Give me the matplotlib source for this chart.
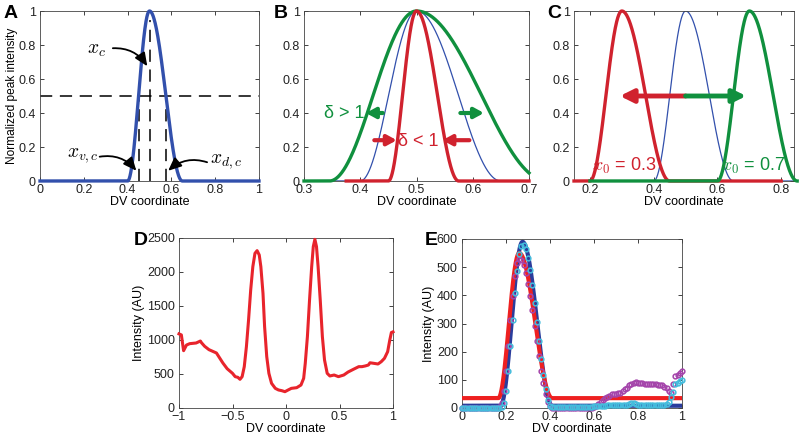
import numpy as np
import matplotlib
matplotlib.use('Agg')
import matplotlib.pyplot as plt

plt.rcParams['font.family'] = ['Liberation Sans', 'DejaVu Sans']
plt.rcParams['mathtext.fontset'] = 'cm'

BLUE = '#3250ac'
RED = '#d0222e'
GREEN = '#10903e'
MAGENTA = '#a444aa'
CYAN = '#44bcdc'
DBLUE = '#2a3c9c'

# peak model parameters: (centre, left width, right width)
base_peak = (0.5, 0.1, 0.15)
delta_values = [1.55, 0.5]          # B: wider (green), narrower (red)
shift_centres = [0.3, 0.7]          # C: red, green
half_points = [0.45, 0.5, 0.575]    # A: x_v,c, x_c, x_d,c

# D: measured profile
d_x = [-1.0, -0.978, -0.957, -0.93, -0.90, -0.84, -0.80, -0.79, -0.76, -0.72,
       -0.65, -0.59, -0.55, -0.50, -0.475, -0.45, -0.43, -0.41, -0.39, -0.37,
       -0.35, -0.33, -0.31, -0.29, -0.27, -0.25, -0.235, -0.215, -0.20, -0.18,
       -0.16, -0.135, -0.10, -0.07, -0.04, -0.01, 0.02, 0.05, 0.10, 0.14,
       0.165, 0.18, 0.20, 0.22, 0.24, 0.255, 0.27, 0.285, 0.30, 0.32,
       0.34, 0.36, 0.385, 0.41, 0.45, 0.49, 0.54, 0.58, 0.63, 0.68,
       0.71, 0.74, 0.77, 0.785, 0.82, 0.86, 0.89, 0.92, 0.95, 0.97,
       0.985, 1.0]
d_y = [1090, 1075, 843, 926, 946, 956, 985, 960, 907, 858,
       809, 662, 578, 510, 461, 451, 422, 461, 608, 902,
       1294, 1735, 2078, 2275, 2314, 2250, 2078, 1686, 1196, 755,
       510, 363, 289, 265, 255, 240, 265, 289, 299, 338,
       436, 657, 1049, 1588, 2078, 2373, 2480, 2373, 2078, 1588,
       1049, 706, 510, 471, 485, 461, 485, 529, 569, 608,
       608, 618, 632, 665, 657, 647, 681, 730, 828, 1000,
       1110, 1120]

# E: fitted peaks (centre, left width, right width, height, baseline)
e_red_fit = (0.26, 0.095, 0.15, 515, 35)
e_blue_fit = (0.275, 0.10, 0.135, 582, 8)

e_x = [i / 100 for i in range(101)]
e_magenta = ([0] * 17 +
             [3, 16, 62, 132, 219, 311, 397, 468, 514, 530, 524, 507, 479, 442,
              397, 347, 292, 237, 183, 133, 88, 51, 23, 6, 1] +
             [1] * 18 +
             [3, 8, 15, 22, 30, 36, 40, 44, 48, 49, 50, 52, 55, 60, 66, 72, 80,
              86, 90, 93, 90, 88, 87, 85, 86, 84, 85, 84, 85, 83, 82, 80, 76,
              70, 62, 53, 85, 114, 118, 124, 130])
e_cyan = ([0] * 18 +
          [2, 16, 62, 131, 219, 314, 407, 487, 545, 576, 580, 563, 532, 490,
           435, 373, 306, 239, 175, 118, 68, 30, 8, 2] +
          [3] * 18 +
          [6, 7, 7, 8, 8, 8, 9, 9, 9, 9, 9, 10, 10, 10, 10, 12, 14, 16, 16,
           14, 12, 10, 9, 9, 9, 9, 9, 9, 9, 9, 9, 10, 12, 15, 22, 40, 57,
           85, 90, 95, 100])


def bump(x, c, wl, wr, h=1.0, base=0.0):
    y = np.zeros_like(x)
    left = (x >= c - wl) & (x <= c)
    right = (x > c) & (x <= c + wr)
    y[left] = np.cos(np.pi / 2 * (c - x[left]) / wl) ** 2
    y[right] = np.cos(np.pi / 2 * (x[right] - c) / wr) ** 2
    return base + h * y


def style(ax, xlim, ylim, xticks, yticks, xticklabels=None):
    ax.set_xlim(*xlim)
    ax.set_ylim(*ylim)
    ax.set_xticks(xticks)
    ax.set_yticks(yticks)
    if xticklabels is not None:
        ax.set_xticklabels(xticklabels)
    ax.tick_params(direction='in', top=True, right=True, length=3, width=0.6,
                   labelsize=9, colors='#222222')
    ax.tick_params(axis='x', pad=2.5)
    ax.tick_params(axis='y', pad=3)
    for s in ax.spines.values():
        s.set_linewidth(0.6)
        s.set_color('#444444')
    ax.set_xlabel('DV coordinate', fontsize=9, labelpad=0)


def panel_label(text, x, y):
    fig.text(x / 800, 1 - y / 438, text, fontsize=14, fontweight='bold',
             va='top', ha='left')


fig = plt.figure(figsize=(8, 4.38), dpi=100)

def axes_px(l, r, t, b):
    return fig.add_axes([l / 800, 1 - b / 438, (r - l) / 800, (b - t) / 438])

c0, wl0, wr0 = base_peak
ticks01 = [0, 0.2, 0.4, 0.6, 0.8, 1]
ticklab01 = ['0', '0.2', '0.4', '0.6', '0.8', '1']

# ---- A ----
axA = axes_px(40, 259, 11, 181)
xa = np.linspace(0, 1, 2001)
dash = (0, (8, 5))
axA.plot([0, 1], [0.5, 0.5], color='k', lw=1.1, linestyle=dash)
axA.plot([half_points[1]] * 2, [0, 0.95], color='k', lw=1.1, linestyle=dash)
axA.plot([half_points[0]] * 2, [0, 0.5], color='k', lw=1.1, linestyle=dash)
axA.plot([half_points[2]] * 2, [0, 0.5], color='k', lw=1.1, linestyle=dash)
axA.plot(xa, bump(xa, c0, wl0, wr0), color=BLUE, lw=2.4, clip_on=False, zorder=3)
style(axA, (0, 1), (0, 1), ticks01, ticks01, ticklab01)
axA.set_yticklabels(ticklab01)
axA.set_ylabel('Normalized peak intensity', fontsize=8.6, labelpad=0)
aprops = dict(arrowstyle='-|>,head_length=0.8,head_width=0.35', color='k',
              lw=1.3, shrinkA=2, shrinkB=0, mutation_scale=10)
axA.text(0.26, 0.77, r'$x_c$', fontsize=14, ha='center', va='center')
axA.annotate('', xy=(0.49, 0.675), xytext=(0.32, 0.78),
             arrowprops=dict(connectionstyle='arc3,rad=-0.3', **aprops))
axA.text(0.195, 0.15, r'$x_{v,c}$', fontsize=14, ha='center', va='center')
axA.annotate('', xy=(0.44, 0.06), xytext=(0.26, 0.14),
             arrowprops=dict(connectionstyle='arc3,rad=-0.3', **aprops))
axA.text(0.85, 0.115, r'$x_{d,c}$', fontsize=14, ha='center', va='center')
axA.annotate('', xy=(0.585, 0.06), xytext=(0.775, 0.105),
             arrowprops=dict(connectionstyle='arc3,rad=0.3', **aprops))
panel_label('A', 4, 5)

# ---- B ----
axB = axes_px(304, 529, 11, 181)
xb = np.linspace(0.3, 0.7, 2001)
axB.plot(xb, bump(xb, c0, wl0, wr0), color=BLUE, lw=0.9, zorder=2)
g = delta_values[0]
axB.plot(xb, bump(xb, c0, wl0 * g, wr0 * g), color=GREEN, lw=2.4, zorder=3,
         clip_on=False)
r = delta_values[1]
xbr = xb[xb >= 0.375]
axB.plot(xbr, bump(xbr, c0, wl0 * r, wr0 * r), color=RED, lw=2.4, zorder=4,
         clip_on=False)
style(axB, (0.3, 0.7), (0, 1), [0.3, 0.4, 0.5, 0.6, 0.7], ticks01)
axB.set_yticklabels(ticklab01)
bprops = dict(arrowstyle='-|>,head_length=0.55,head_width=0.3', lw=3,
              shrinkA=0, shrinkB=0, mutation_scale=10)
axB.annotate('', xy=(0.41, 0.4), xytext=(0.44, 0.4),
             arrowprops=dict(color=GREEN, **bprops))
axB.annotate('', xy=(0.62, 0.4), xytext=(0.578, 0.4),
             arrowprops=dict(color=GREEN, **bprops))
axB.annotate('', xy=(0.465, 0.24), xytext=(0.425, 0.24),
             arrowprops=dict(color=RED, **bprops))
axB.annotate('', xy=(0.546, 0.24), xytext=(0.594, 0.24),
             arrowprops=dict(color=RED, **bprops))
axB.text(0.371, 0.4, 'δ > 1', color=GREEN, fontsize=13, ha='center', va='center')
axB.text(0.504, 0.23, 'δ < 1', color=RED, fontsize=13, ha='center', va='center')
panel_label('B', 274, 5)

# ---- C ----
axC = axes_px(574, 794, 11, 181)
xc = np.linspace(0.15, 0.85, 2001)
axC.plot(xc, bump(xc, c0, wl0, wr0), color=BLUE, lw=0.9, zorder=2)
xcr = xc[xc <= 0.8]
axC.plot(xcr, bump(xcr, shift_centres[0], wl0, wr0), color=RED, lw=2.4,
         zorder=3, clip_on=False)
xcg = xc[xc >= 0.2]
axC.plot(xcg, bump(xcg, shift_centres[1], wl0, wr0), color=GREEN, lw=2.4,
         zorder=4, clip_on=False)
style(axC, (0.15, 0.84), (0, 1), [0.2, 0.4, 0.6, 0.8], ticks01)
axC.set_yticklabels(ticklab01)
cprops = dict(arrowstyle='-|>,head_length=0.6,head_width=0.3', lw=3.5,
              shrinkA=0, shrinkB=0, mutation_scale=13)
axC.annotate('', xy=(0.294, 0.5), xytext=(0.5, 0.5),
             arrowprops=dict(color=RED, **cprops))
axC.annotate('', xy=(0.69, 0.5), xytext=(0.5, 0.5),
             arrowprops=dict(color=GREEN, **cprops))
axC.text(0.307, 0.09, r'$x_0$ = 0.3', color=RED, fontsize=13, ha='center',
         va='center', zorder=6)
axC.text(0.712, 0.09, r'$x_0$ = 0.7', color=GREEN, fontsize=13, ha='center',
         va='center', zorder=6)
panel_label('C', 547, 5)

# ---- D ----
axD = axes_px(179, 393, 238, 408)
axD.plot(d_x, d_y, color='#e8242c', lw=2.2, clip_on=False, zorder=3)
style(axD, (-1, 1), (0, 2500), [-1, -0.5, 0, 0.5, 1],
      [0, 500, 1000, 1500, 2000, 2500], ['−1', '−0.5', '0', '0.5', '1'])
axD.set_ylabel('Intensity (AU)', fontsize=9, labelpad=1)
panel_label('D', 134, 232)

# ---- E ----
axE = axes_px(462, 682, 239, 408)
xe = np.linspace(0, 1, 2001)
bc, bwl, bwr, bh, bb = e_blue_fit
axE.plot(xe, bump(xe, bc, bwl, bwr, bh, bb), color=DBLUE, lw=3, zorder=2)
rc, rwl, rwr, rh, rb = e_red_fit
axE.plot(xe, bump(xe, rc, rwl, rwr, rh, rb), color='#ee2020', lw=3, zorder=3)
axE.plot(e_x, e_magenta, 'o', mfc='none', mec=MAGENTA, ms=3.4, mew=1.1,
         zorder=4, clip_on=False)
axE.plot(e_x, e_cyan, 'o', mfc='none', mec=CYAN, ms=3.4, mew=1.1,
         zorder=5, clip_on=False)
style(axE, (0, 1), (0, 600), ticks01, [0, 100, 200, 300, 400, 500, 600],
      ticklab01)
axE.set_ylabel('Intensity (AU)', fontsize=9, labelpad=1)
panel_label('E', 425, 232)

fig.savefig('out.png', dpi=100)
